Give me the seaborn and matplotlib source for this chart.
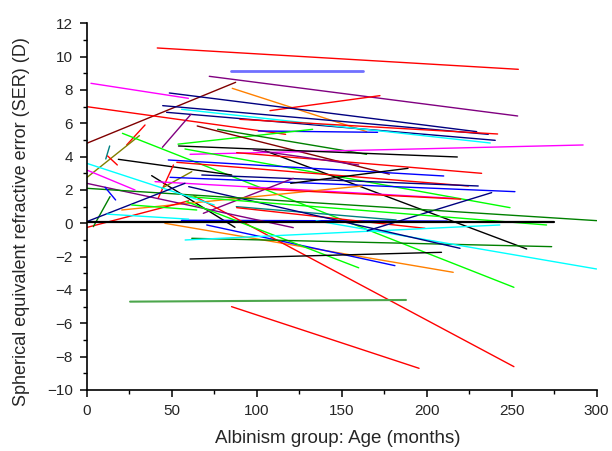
import matplotlib
matplotlib.use("Agg")
import matplotlib.pyplot as plt
from matplotlib.ticker import MultipleLocator
import numpy as np
import pandas as pd
import seaborn as sns

# Each subject: first and last visit (age in months, SER in dioptres)
age_start = [41.5, 84.7, 72.1, 2.5, 0.0, 85.6, 107.8, 0.0, 48.6, 44.7,
             47.0, 55.8, 90.1, 100.9, 23.5, 0.0, 21.0, 44.5, 53.7, 65.0,
             77.0, 60.8, 54.0, 57.8, 11.2, 12.3, 18.6, 105.0, 38.2, 48.0,
             53.0, 88.2, 42.0, 44.1, 40.2, 49.0, 67.7, 68.6, 98.0, 120.0,
             20.6, 0.0, 56.0, 46.0, 70.6, 63.0, 0.0, 0.0, 58.5, 88.0,
             88.2, 61.8, 57.9, 60.8, 135.0, 60.0, 165.0, 0.0, 60.0, 0.0,
             0.0, 10.8, 3.9, 0.0, 12.0, 26.4, 25.5, 85.2, 95.0]
ser_start = [10.52, 9.16, 8.82, 8.40, 4.80, 8.10, 6.76, 7.00, 7.82, 7.06,
             6.66, 6.84, 6.24, 5.54, 4.70, 2.74, 5.40, 4.56, 4.75, 5.84,
             5.64, 4.14, 4.64, 4.46, 3.86, 4.04, 3.84, 4.35, 2.86, 3.80,
             3.66, 4.24, 1.50, 2.10, 2.50, 2.76, 2.90, 0.60, 4.40, 2.40,
             0.80, 0.05, 0.15, 0.00, -0.10, 1.65, 2.40, -0.25, 1.31, 1.00,
             0.94, -0.90, -1.00, -2.14, 0.15, 2.20, -0.45, 2.10, 1.60, 3.60,
             3.20, 2.16, -0.20, 0.10, 0.55, 1.10, -4.70, -5.00, 2.10]
age_end = [253.9, 162.7, 253.5, 59.8, 87.6, 164.7, 172.5, 117.0, 229.4, 236.2,
           240.3, 237.4, 241.7, 171.1, 34.3, 31.0, 251.3, 61.3, 132.9, 178.0,
           164.6, 292.0, 218.0, 249.0, 13.5, 18.0, 85.3, 258.8, 87.2, 210.0,
           224.5, 232.3, 51.0, 61.8, 215.6, 251.9, 230.3, 121.5, 160.0, 189.0,
           162.0, 275.0, 212.0, 215.6, 181.3, 251.3, 121.5, 60.0, 160.0, 182.0,
           199.0, 273.5, 243.0, 208.7, 299.9, 219.6, 238.2, 300.0, 270.5, 75.0,
           28.4, 17.0, 13.7, 57.8, 60.0, 64.7, 187.8, 195.5, 220.0]
ser_end = [9.24, 9.16, 6.44, 7.50, 8.46, 5.50, 7.66, 5.34, 5.50, 5.34,
           4.98, 4.82, 5.36, 5.46, 5.90, 5.26, -3.84, 6.54, 5.64, 2.95,
           4.14, 4.70, 3.98, 0.94, 4.64, 3.50, 2.90, -1.54, -0.24, 2.84,
           2.24, 3.00, 3.50, 3.10, 1.50, 1.90, 2.24, 2.70, 3.50, 3.30,
           2.24, 0.05, 0.10, -2.94, -2.54, -8.60, -0.26, 1.35, -2.67, 0.20,
           -0.30, -1.40, -0.10, -1.74, -2.74, -1.50, 1.84, 0.16, -0.10, 1.10,
           2.00, 1.40, 1.60, 2.40, 0.25, 0.80, -4.60, -8.70, 1.45]

line_colors = ["#ff0000", "#7070ff", "#800080", "#ff00ff", "#800000", "#ff8000", "#ff0000", "#ff0000", "#000080", "#000080",
               "#000080", "#00ffff", "#ff0000", "#0000ff", "#ff0000", "#808000", "#00ff00", "#800080", "#00ff00", "#800000",
               "#008000", "#ff00ff", "#000000", "#00ff00", "#008080", "#ff0000", "#000000", "#000000", "#000000", "#0000ff",
               "#ff0000", "#ff0000", "#ff0000", "#808000", "#ff00ff", "#0000ff", "#000080", "#800080", "#800080", "#000000",
               "#ff8000", "#000000", "#0000ff", "#ff8000", "#0000ff", "#ff0000", "#800080", "#ff0000", "#00ff00", "#008080",
               "#ff0000", "#008000", "#00ffff", "#000000", "#00ffff", "#000080", "#000080", "#008000", "#00ff00", "#00ffff",
               "#ff00ff", "#0000ff", "#008000", "#000080", "#00ffff", "#00ff00", "#4ca64c", "#ff0000", "#ff0000"]
thick = {1: 2.0, 41: 1.6, 42: 1.8, 66: 1.5}

rows = []
for i, (xa, ya, xb, yb) in enumerate(zip(age_start, ser_start, age_end, ser_end)):
    rows.append({"subject": i, "age": xa, "ser": ya})
    rows.append({"subject": i, "age": xb, "ser": yb})
df = pd.DataFrame(rows)

sns.set_style("ticks")
plt.rcParams["font.family"] = ["Liberation Sans", "DejaVu Sans"]

fig = plt.figure(figsize=(6.12, 4.51), dpi=100)
ax = fig.add_axes([0.1417, 0.1353, 0.8333, 0.813])

for i in range(len(age_start)):
    sub = df[df["subject"] == i]
    sns.lineplot(data=sub, x="age", y="ser", ax=ax, color=line_colors[i],
                 linewidth=thick.get(i, 1.0), estimator=None, legend=False,
                 sort=False, zorder=3 if i == 41 else 2)

ax.set_xlim(0, 300)
ax.set_ylim(-10, 12)
ax.xaxis.set_major_locator(MultipleLocator(50))
ax.xaxis.set_minor_locator(MultipleLocator(25))
ax.yaxis.set_major_locator(MultipleLocator(2))
ax.yaxis.set_minor_locator(MultipleLocator(1))
ax.tick_params(which="major", direction="out", length=5, width=1.1, labelsize=11,
               color="black", pad=5)
ax.tick_params(which="minor", direction="out", length=3, width=1.0, color="black")
sns.despine(ax=ax)
for side in ("left", "bottom"):
    ax.spines[side].set_linewidth(1.2)
    ax.spines[side].set_color("black")

ax.set_xlabel("Albinism group: Age (months)", fontsize=13.5)
ax.set_ylabel("Spherical equivalent refractive error (SER) (D)", fontsize=13)
ax.xaxis.set_label_coords(0.492, -0.11)
ax.yaxis.set_label_coords(-0.112, 0.458)

fig.savefig("out.png", dpi=100)
